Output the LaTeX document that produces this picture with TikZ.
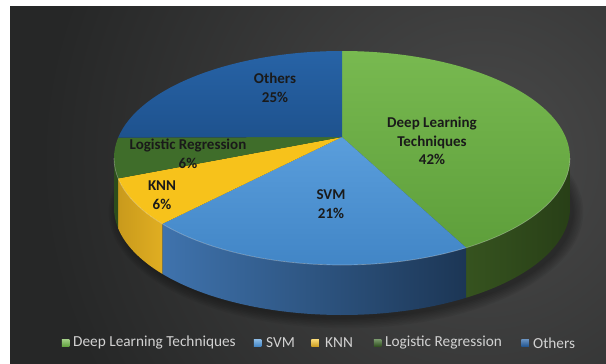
\documentclass[tikz,border=0pt]{standalone}
\usepackage{fontspec}
\setmainfont{Carlito}
\usetikzlibrary{calc}

% slice colours
\definecolor{bgdark}{HTML}{262727}
\definecolor{bglight}{HTML}{4A4A4A}
\definecolor{dlTopA}{HTML}{78B950}
\definecolor{dlTopB}{HTML}{5E9F3B}
\definecolor{dlSideA}{HTML}{36531F}
\definecolor{dlSideB}{HTML}{283F17}
\definecolor{svmTopA}{HTML}{5A9EDC}
\definecolor{svmTopB}{HTML}{3F83C4}
\definecolor{svmSideA}{HTML}{3F73AD}
\definecolor{svmSideB}{HTML}{1C3655}
\definecolor{knnTop}{HTML}{F7C21B}
\definecolor{knnSideA}{HTML}{E0AE22}
\definecolor{knnSideB}{HTML}{C99A1C}
\definecolor{lrTop}{HTML}{3F6D2A}
\definecolor{lrSide}{HTML}{2C4C1C}
\definecolor{othTopA}{HTML}{2763A6}
\definecolor{othTopB}{HTML}{1E528E}
\definecolor{labelink}{HTML}{1A1A1A}
\definecolor{legendink}{HTML}{D2D2D2}

% top face of a slice between two ellipse angles
\newcommand{\pietopface}[3]{%
  \path[#3] (apex) -- ($(ctr)+(#1:228 and 107)$)
    arc[start angle=#1,end angle=#2,x radius=228,y radius=107] -- cycle;}
% outer wall of a slice between two ellipse angles
\newcommand{\piewall}[3]{%
  \path[#3] ($(ctr)+(#1:228 and 107)$)
    arc[start angle=#1,end angle=#2,x radius=228,y radius=107]
    -- ($(bctr)+(#2:228 and 107)$)
    arc[start angle=#2,end angle=#1,x radius=228,y radius=107] -- cycle;}

\tikzset{
  slicelabel/.style={font=\bfseries\fontsize{15}{18.5}\selectfont, text=labelink,
    align=center, inner sep=0pt},
  legendtext/.style={font=\fontsize{15.3}{17}\selectfont, text=legendink,
    anchor=west, inner sep=0pt},
  legendkey/.style={minimum size=7.5pt, inner sep=0pt},
}

\begin{document}
\begin{tikzpicture}[x=1pt,y=-1pt]
\useasboundingbox (0,0) rectangle (606,364);
\fill[white] (0,0) rectangle (606,364);

% dark backdrop with a soft light spot
\begin{scope}
  \clip (10,6) rectangle (606,364);
  \fill[bgdark] (10,6) rectangle (606,364);
  \shade[inner color=bglight, outer color=bgdark] (480,160) circle[radius=440];
\end{scope}

\coordinate (ctr) at (342,158);
\coordinate (bctr) at (342,208);
\coordinate (apex) at (342,137);

% soft shadow under the pie
\foreach \i in {1,...,7}
  \fill[black, opacity=0.05] (346,212) ellipse ({226+1.6*\i} and {105+1.6*\i});

% walls
\piewall{0}{57}{left color=dlSideA, right color=dlSideB}
\piewall{57}{142}{left color=svmSideA, right color=svmSideB}
\piewall{142}{169}{left color=knnSideB, right color=knnSideA}
\piewall{169}{180}{fill=lrSide}

% top faces
\pietopface{-90}{57}{top color=dlTopA, bottom color=dlTopB}
\pietopface{57}{142}{top color=svmTopA, bottom color=svmTopB}
\pietopface{142}{169}{fill=knnTop}
\pietopface{169}{191}{fill=lrTop}
\pietopface{191}{270}{top color=othTopA, bottom color=othTopB}

% light rim along the front edge
\draw[white, opacity=0.3, line width=0.7pt] ($(ctr)+(0:228 and 107)$)
  arc[start angle=0,end angle=180,x radius=228,y radius=107];

% slice labels
\node[slicelabel] (lblDL) at (432,141) {Deep Learning\\Techniques\\42\%};
\node[slicelabel] (lblSVM) at (331,204) {SVM\\21\%};
\node[slicelabel] (lblOth) at (275,88) {Others\\25\%};
\node[slicelabel] (lblLR) at (188,154) {Logistic Regression\\6\%};
\node[slicelabel] (lblKNN) at (162,195) {KNN\\6\%};

% legend
\node[legendkey, top color=dlTopA!70!white, bottom color=dlTopB] (kDL) at (65.5,343) {};
\node[legendtext] (tDL) at (73,343) {Deep Learning Techniques};
\node[legendkey, top color=svmTopA!70!white, bottom color=svmTopB] (kSVM) at (257.5,343) {};
\node[legendtext] (tSVM) at (266,343) {SVM};
\node[legendkey, top color=knnTop!60!white, bottom color=knnSideB] (kKNN) at (315,343) {};
\node[legendtext] (tKNN) at (325,343) {KNN};
\node[legendkey, top color=lrTop!70!white, bottom color=lrSide] (kLR) at (377.5,343) {};
\node[legendtext] (tLR) at (385,343) {Logistic Regression};
\node[legendkey, top color=othTopA!70!white, bottom color=othTopB] (kOth) at (525,343) {};
\node[legendtext] (tOth) at (533,343) {Others};
\end{tikzpicture}
\end{document}
